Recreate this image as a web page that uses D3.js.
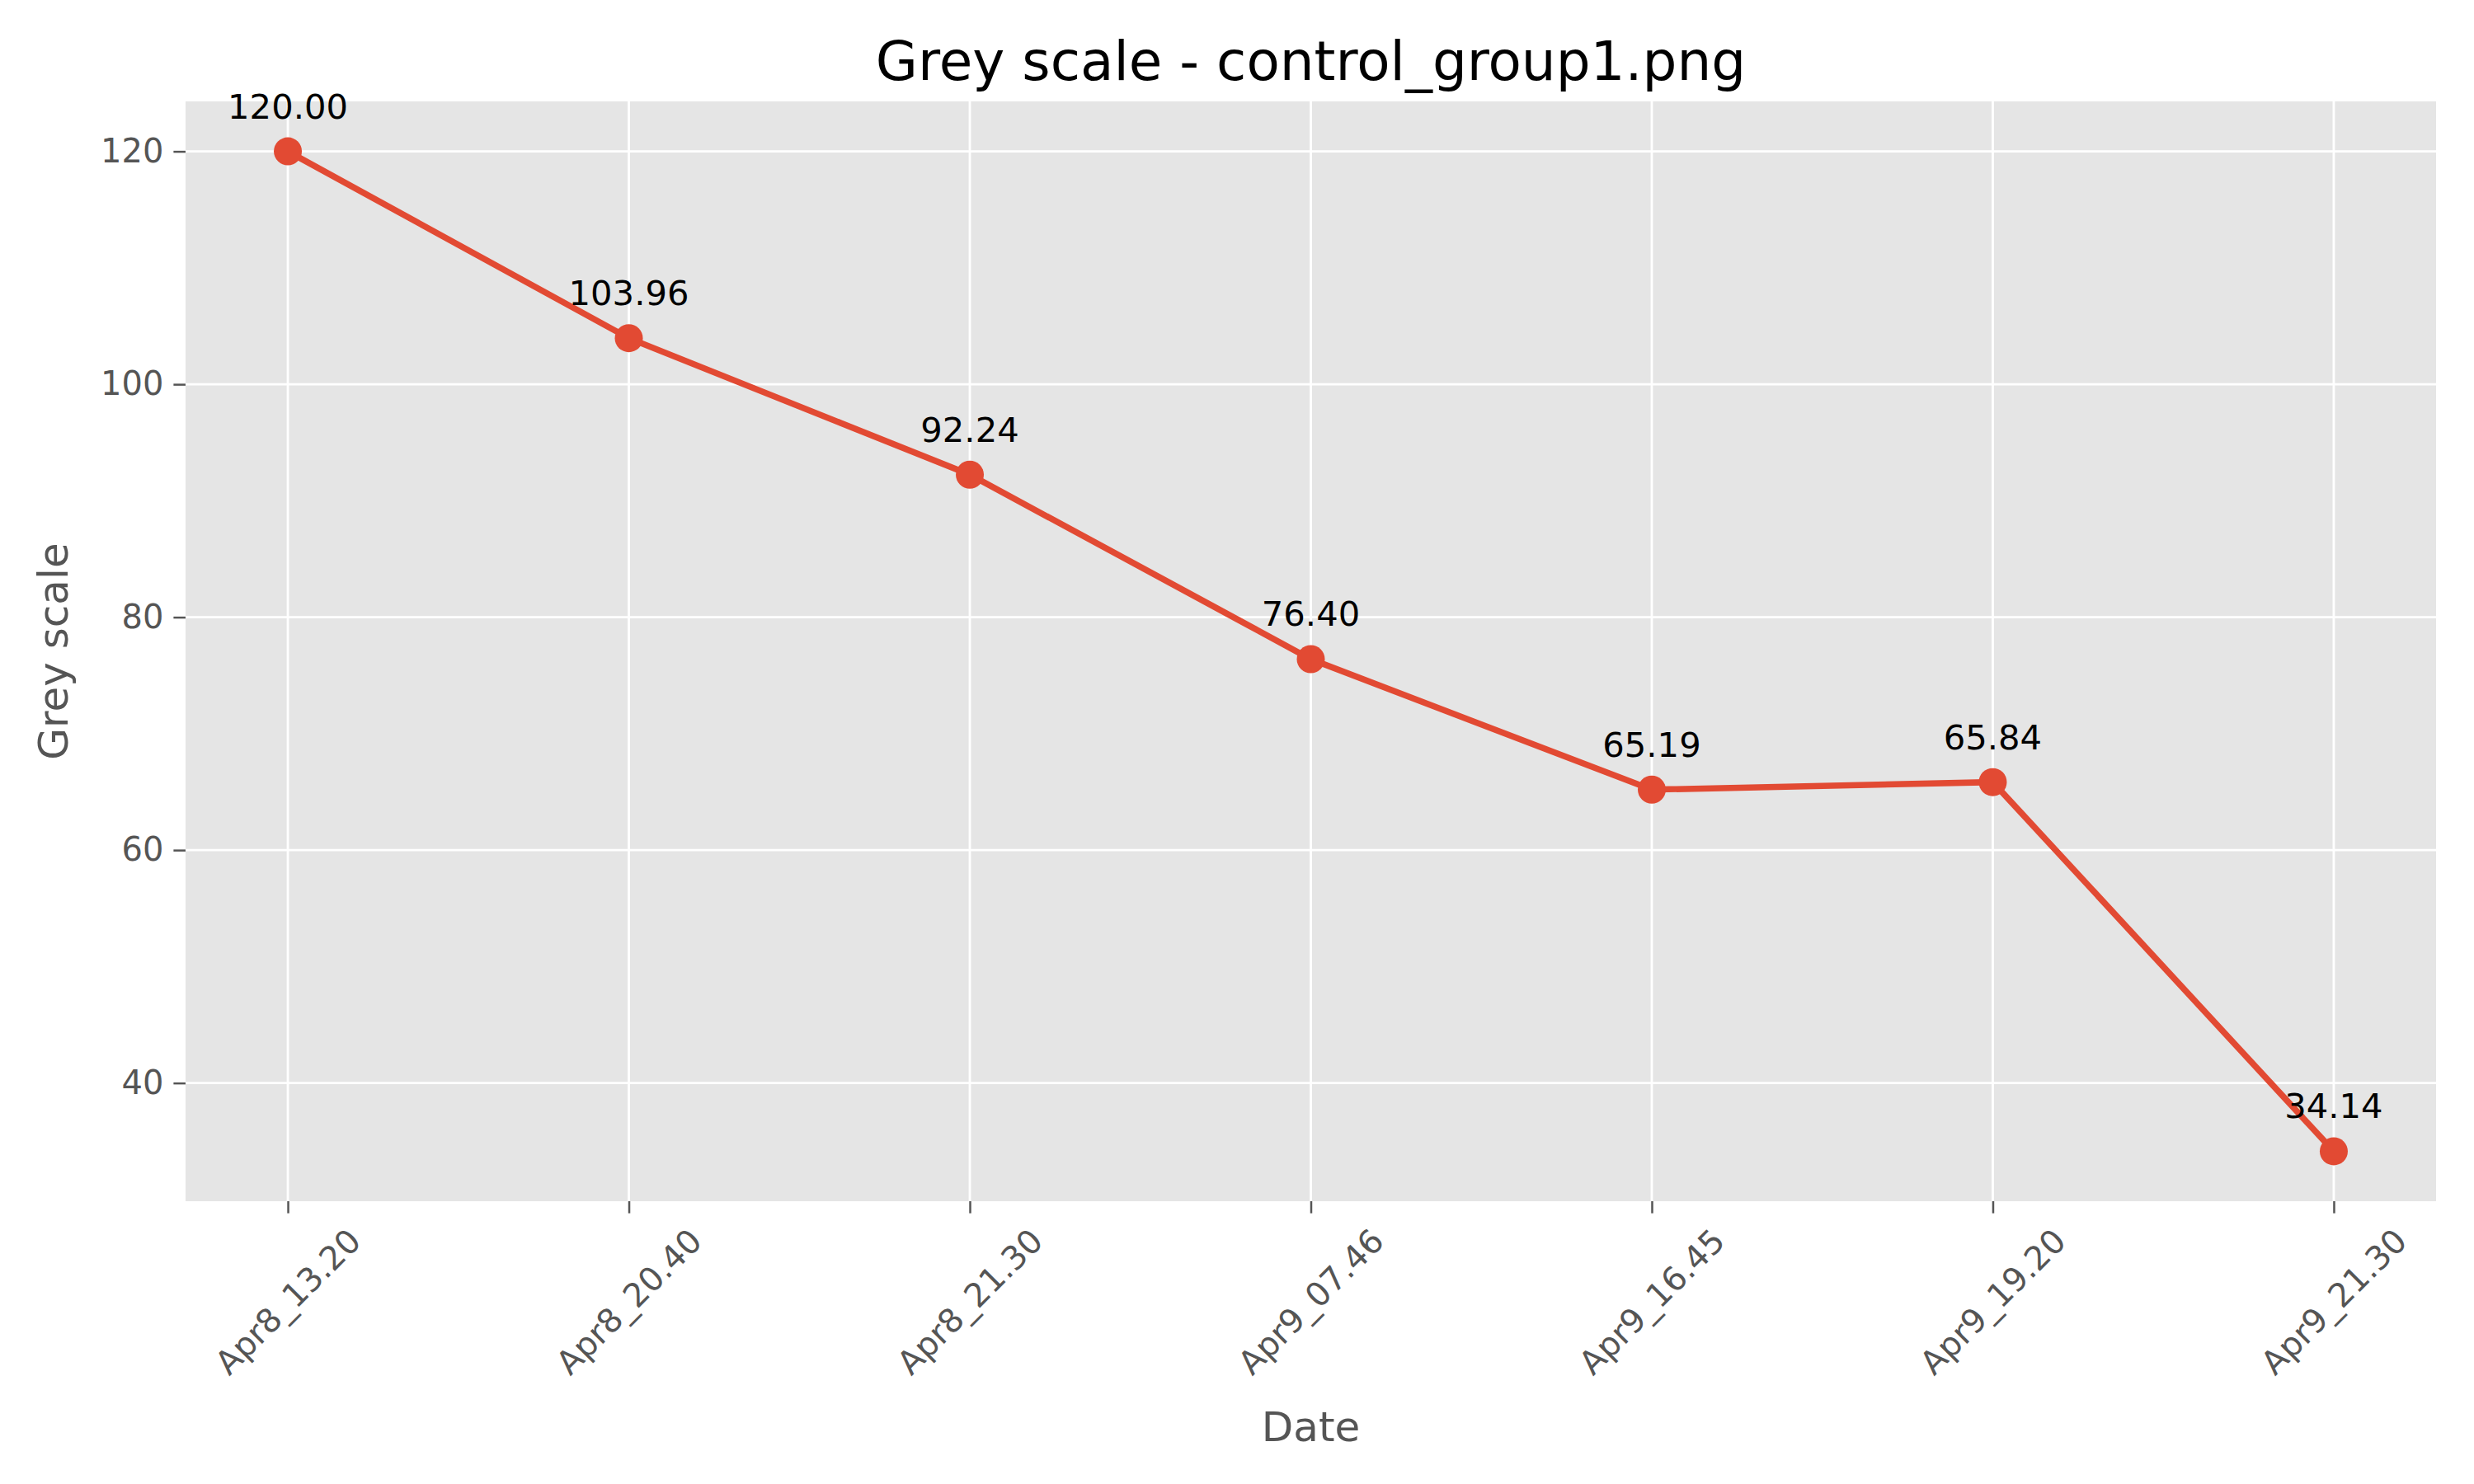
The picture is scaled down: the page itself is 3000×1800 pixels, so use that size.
<!DOCTYPE html><html><head><meta charset="utf-8">
<script src="https://cdn.jsdelivr.net/npm/d3@7"></script>
<style>body{margin:0;background:#fff}text{font-family:"DejaVu Sans",sans-serif}</style></head><body>
<svg id="c" width="3000" height="1800"></svg>
<script>
const categories=["Apr8_13.20","Apr8_20.40","Apr8_21.30","Apr9_07.46","Apr9_16.45","Apr9_19.20","Apr9_21.30"];
const values=[120.00,103.96,92.24,76.40,65.19,65.84,34.14];
const yTicks=[40,60,80,100,120];
const svg=d3.select("#c");
const L=225,R=2954,T=123,B=1457;
const x=d3.scalePoint().domain(categories).range([L,R]).padding(0.3);
const y=d3.scaleLinear().domain([29.85,124.29]).range([B,T]);
svg.append("rect").attr("x",L).attr("y",T).attr("width",R-L).attr("height",B-T).attr("fill","#E5E5E5");
const g=svg.append("g");
yTicks.forEach(t=>g.append("line").attr("x1",L).attr("x2",R).attr("y1",y(t)).attr("y2",y(t)).attr("stroke","#fff").attr("stroke-width",2.8));
categories.forEach(c=>g.append("line").attr("x1",x(c)).attr("x2",x(c)).attr("y1",T).attr("y2",B).attr("stroke","#fff").attr("stroke-width",2.8));
const ya=svg.append("g").attr("transform",`translate(${L},0)`).call(d3.axisLeft(y).tickValues(yTicks).tickSize(14.6).tickPadding(12));
ya.select(".domain").remove();
ya.selectAll("line").attr("stroke","#555").attr("stroke-width",2.5);
ya.selectAll("text").attr("fill","#555").attr("font-size",40).attr("font-family","DejaVu Sans");
const xa=svg.append("g").attr("transform",`translate(0,${B})`).call(d3.axisBottom(x).tickSize(14.6).tickFormat(""));
xa.select(".domain").remove();
xa.selectAll("line").attr("stroke","#555").attr("stroke-width",2.5);
categories.forEach(c=>{
 const t=svg.append("text").text(c).attr("font-size",40).attr("fill","#555").attr("text-anchor","middle").attr("dominant-baseline","central");
 const w=t.node().getComputedTextLength(),h=40;
 const hb=(w+h)/Math.SQRT2/2;
 t.attr("transform",`translate(${x(c)},${B+14.6+12+hb}) rotate(-45)`);
});
svg.append("path").datum(values).attr("fill","none").attr("stroke","#E24A33").attr("stroke-width",7.5)
 .attr("d",d3.line().x((d,i)=>x(categories[i])).y(d=>y(d)));
svg.selectAll("circle.p").data(values).join("circle").attr("cx",(d,i)=>x(categories[i])).attr("cy",d=>y(d)).attr("r",17).attr("fill","#E24A33");
svg.selectAll("text.a").data(values).join("text").attr("x",(d,i)=>x(categories[i])).attr("y",d=>y(d)-40)
 .attr("text-anchor","middle").attr("font-size",41.7).attr("fill","#000").text(d=>d.toFixed(2));
svg.append("text").attr("x",(L+R)/2).attr("y",97).attr("text-anchor","middle").attr("font-size",66).attr("fill","#000").text("Grey scale - control_group1.png");
svg.append("text").attr("x",(L+R)/2).attr("y",1748).attr("text-anchor","middle").attr("font-size",50).attr("fill","#555").text("Date");
svg.append("text").attr("transform",`translate(82,${(T+B)/2}) rotate(-90)`).attr("text-anchor","middle").attr("font-size",50).attr("fill","#555").text("Grey scale");
</script></body></html>
